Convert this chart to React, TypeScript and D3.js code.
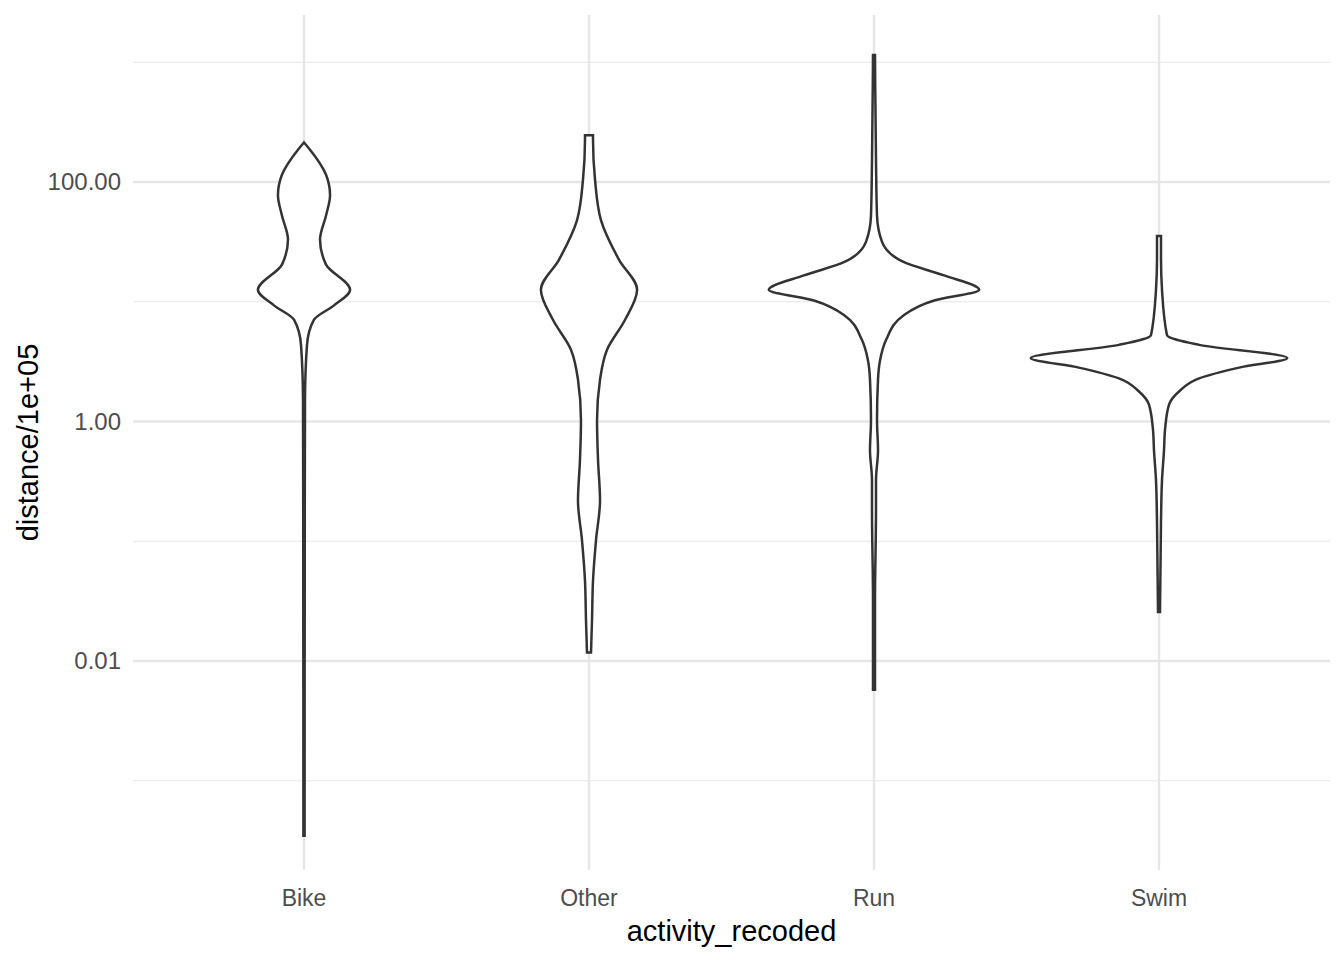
import React from "react";
import * as d3 from "d3";

const categories = ["Bike", "Other", "Run", "Swim"];
// [log10(distance/1e5), relative density]
const bike: [number, number][] = [[2.33, 0], [2.27, 6], [2.06, 22], [1.89, 26], [1.72, 22], [1.52, 16], [1.31, 22], [1.1, 46], [0.97, 30], [0.85, 10], [0.64, 3], [0.18, 1], [-0.66, 0.8], [-3.46, 0.6]];
const other: [number, number][] = [[2.39, 4], [2.35, 4], [2.02, 6], [1.68, 12], [1.35, 30], [1.1, 48], [0.85, 36], [0.6, 18], [0.35, 11], [0.01, 8], [-0.32, 9], [-0.66, 11], [-0.99, 7], [-1.33, 4], [-1.66, 3], [-1.93, 2]];
const run: [number, number][] = [[3.06, 1], [2.18, 2], [1.72, 3], [1.5, 8], [1.33, 30], [1.22, 70], [1.1, 105], [1.01, 60], [0.89, 30], [0.68, 12], [0.51, 6], [0.35, 4], [0.01, 3], [-0.24, 4], [-0.49, 2], [-0.74, 2], [-1.49, 1], [-2.24, 1]];
const swim: [number, number][] = [[1.55, 2], [1.35, 2], [1.1, 3], [0.72, 8], [0.64, 40], [0.53, 128], [0.45, 80], [0.36, 40], [0.25, 20], [0.14, 10], [-0.07, 6], [-0.24, 5], [-0.49, 3], [-0.83, 2], [-1.59, 1]];
const profiles = [bike, other, run, swim];
const majorTicks = [0.01, 1, 100];
const minorTicks = [0.001, 0.1, 10, 1000];
const maxDensity = 128;

const W = 1344, H = 960;
const left = 133, right = 1330, top = 15, bottom = 870;

export default function App() {
  const x = d3.scalePoint<string>().domain(categories).range([left + 171, right - 171]);
  const step = x.step();
  const y = d3.scaleLog().domain([10 ** -2, 10 ** 2]).range([661, 182]);
  const w = d3.scaleLinear().domain([0, maxDensity]).range([0, step * 0.45]);

  return (
    <svg width={W} height={H} style={{ position: "absolute", left: 0, top: 0, background: "#fff" }}
      fontFamily="Liberation Sans, Arial, sans-serif">
      {minorTicks.map(t => (
        <line key={"n" + t} x1={left} x2={right} y1={y(t)} y2={y(t)} stroke="#e6e6e6" strokeWidth={1.2} />
      ))}
      {majorTicks.map(t => (
        <line key={"m" + t} x1={left} x2={right} y1={y(t)} y2={y(t)} stroke="#e6e6e6" strokeWidth={2.4} />
      ))}
      {categories.map(c => (
        <line key={c} x1={x(c)} x2={x(c)} y1={top} y2={bottom} stroke="#e6e6e6" strokeWidth={2.4} />
      ))}
      {profiles.map((p, i) => {
        const cx = x(categories[i])!;
        const area = d3.area<[number, number]>()
          .y(d => y(10 ** d[0]))
          .x0(d => cx - w(d[1]))
          .x1(d => cx + w(d[1]))
          .curve(d3.curveMonotoneY);
        return <path key={i} d={area(p)!} fill="#fff" stroke="#333" strokeWidth={2.5} />;
      })}
      {majorTicks.map(t => (
        <text key={"t" + t} x={left - 12} y={y(t)} dy="0.35em" textAnchor="end" fontSize={24} fill="#4d4d4d">
          {t.toFixed(2)}
        </text>
      ))}
      {categories.map(c => (
        <text key={"l" + c} x={x(c)} y={906} textAnchor="middle" fontSize={23} fill="#4d4d4d">{c}</text>
      ))}
      <text x={(left + right) / 2} y={941} textAnchor="middle" fontSize={29} fill="#000">activity_recoded</text>
      <text transform={`translate(38,${(top + bottom) / 2}) rotate(-90)`} textAnchor="middle" fontSize={29} fill="#000">
        distance/1e+05
      </text>
    </svg>
  );
}
